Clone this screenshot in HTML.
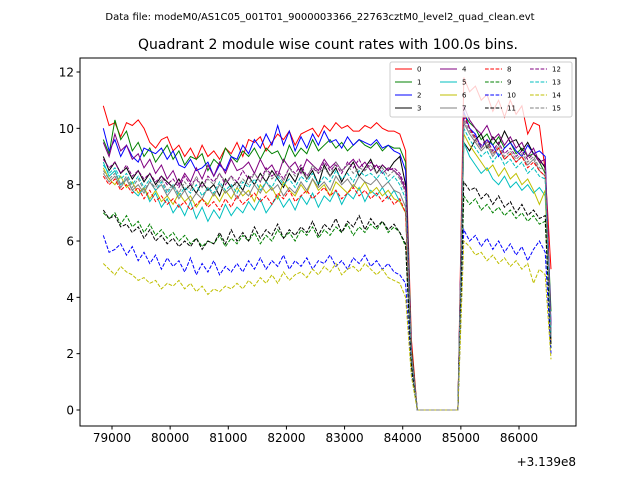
<!DOCTYPE html>
<html><head><meta charset="utf-8"><style>
body{margin:0;background:#fff}
svg{display:block;font-family:"DejaVu Sans","Liberation Sans",sans-serif}
</style></head><body>
<svg id="chart" width="640" height="480">
<text x="320" y="20" text-anchor="middle" font-size="10">Data file: modeM0/AS1C05_001T01_9000003366_22763cztM0_level2_quad_clean.evt</text>
<text x="328" y="49" text-anchor="middle" font-size="14">Quadrant 2 module wise count rates with 100.0s bins.</text>
<g id="plot"></g>
<text x="576" y="466" text-anchor="end" font-size="12">+3.139e8</text>
</svg>
<script>
const startTime = 78850;
const binSize = 100;
const s0 = [10.8,10.1,10.2,9.7,10.2,10.1,10.3,10.0,9.5,9.3,9.6,9.7,9.2,9.4,9.0,9.3,8.9,9.4,9.0,9.2,8.9,9.3,9.1,9.5,9.0,9.6,9.5,9.7,9.2,9.5,9.8,9.6,9.9,9.4,9.8,9.9,10.0,9.7,10.1,9.9,10.2,10.0,10.1,9.9,9.9,10.1,10.0,10.2,10.0,9.9,9.9,9.8,9.2,2.5,0,0,0,0,0,0,0,0,11.8,11.3,11.5,11.0,11.2,10.6,11.0,10.4,11.0,10.5,10.8,9.8,10.2,10.1,8.5,5.0];
const s1 = [9.6,9.1,10.3,9.6,9.9,9.2,9.5,9.0,9.3,8.8,9.1,9.4,8.9,9.2,8.7,9.0,8.9,9.1,8.5,8.9,8.7,9.3,9.0,8.8,9.2,9.0,9.3,8.9,9.3,9.1,9.2,8.8,9.4,9.0,9.3,9.1,9.6,9.2,9.4,9.6,9.3,9.5,9.2,9.4,9.6,9.4,9.3,9.5,9.2,9.4,9.3,9.3,8.8,2.2,0,0,0,0,0,0,0,0,10.5,10.2,10.0,9.6,9.8,9.4,9.7,9.3,9.5,9.1,9.3,9.0,9.1,8.8,8.4,3.5];
const s2 = [10.0,9.2,9.6,9.0,9.4,9.0,8.8,9.3,9.2,9.1,9.3,8.9,9.2,8.7,8.6,8.9,8.5,8.6,8.8,8.3,8.7,8.5,9.0,8.9,9.4,9.1,9.6,9.3,9.8,9.4,10.1,9.4,9.9,9.2,9.7,9.3,9.8,9.4,9.9,9.5,9.6,9.3,9.7,9.4,9.6,9.5,9.4,9.6,9.3,9.4,9.2,9.1,8.5,2.0,0,0,0,0,0,0,0,0,10.6,10.0,9.8,9.3,9.6,9.4,9.0,9.3,9.5,9.2,9.0,9.4,9.1,9.2,9.0,3.0];
const s3 = [9.0,8.5,8.8,8.4,8.6,8.2,8.5,8.1,8.4,8.0,8.3,8.1,7.9,8.2,7.8,8.0,7.7,8.1,7.8,8.0,7.6,8.2,7.9,8.1,7.8,8.3,8.0,8.4,8.1,8.5,8.2,7.9,8.4,8.1,8.6,8.2,8.5,8.0,8.7,8.3,8.6,8.1,8.5,8.8,8.3,8.6,8.9,8.4,8.7,8.5,8.8,9.0,8.0,2.0,0,0,0,0,0,0,0,0,9.5,9.2,9.6,9.8,9.3,9.7,9.4,9.9,9.5,9.6,9.2,9.5,9.1,8.9,8.6,2.5];
const s4 = [9.5,9.0,9.8,9.2,9.4,8.9,9.1,8.6,8.9,8.4,8.7,8.2,8.5,8.0,8.4,8.1,8.6,8.2,8.7,8.3,8.8,8.4,8.9,8.5,8.6,8.8,8.4,8.9,8.5,8.7,8.3,8.9,8.6,8.8,8.4,8.9,8.7,8.5,8.9,8.6,8.8,8.5,8.7,8.9,8.6,8.8,8.5,8.7,8.4,8.6,8.5,8.3,7.8,2.0,0,0,0,0,0,0,0,0,10.8,10.3,10.0,9.8,10.1,9.6,9.8,9.4,9.7,9.3,9.5,9.0,9.3,8.8,8.9,3.0];
const s5 = [8.8,8.3,8.5,8.0,8.2,7.8,7.6,7.9,7.4,7.7,7.2,7.5,7.0,7.3,6.9,7.4,6.8,7.2,6.7,7.1,6.8,7.3,6.9,7.2,7.0,7.4,7.1,7.5,7.0,7.3,7.6,7.2,7.5,7.1,7.6,7.3,7.7,7.2,7.6,7.4,7.8,7.3,7.7,7.5,7.9,7.4,7.8,7.6,7.9,7.5,7.8,7.4,7.0,1.8,0,0,0,0,0,0,0,0,9.5,9.0,8.7,8.4,8.6,8.2,8.0,8.3,7.9,8.1,7.8,8.0,7.7,7.9,7.6,2.8];
const s6 = [8.6,8.2,8.0,8.3,7.9,8.1,7.7,7.9,7.5,7.8,7.4,7.6,7.3,7.7,7.4,7.6,7.2,7.5,7.3,7.7,7.4,7.8,7.5,7.9,7.6,7.8,7.4,8.0,7.7,7.9,7.5,8.1,7.8,7.6,8.0,7.7,8.2,7.8,8.0,7.6,8.1,7.9,7.7,8.0,7.8,8.1,7.7,7.9,7.6,7.8,7.5,7.4,7.0,1.8,0,0,0,0,0,0,0,0,9.8,9.4,9.1,8.8,8.5,8.7,8.3,8.6,8.2,8.4,8.0,8.2,7.8,7.3,7.8,2.4];
const s7 = [8.4,8.1,8.3,7.9,8.2,7.8,8.0,7.7,8.1,7.8,8.0,7.6,7.9,7.5,7.8,7.4,7.7,7.5,7.9,7.6,8.0,7.7,7.9,7.5,7.8,7.6,8.0,7.7,8.1,7.8,8.0,7.6,7.9,7.7,8.1,7.8,8.2,7.9,8.1,7.8,8.3,8.0,8.2,7.9,8.3,8.1,8.0,8.2,7.9,8.1,7.8,7.7,7.2,1.9,0,0,0,0,0,0,0,0,10.2,9.8,9.5,9.2,9.4,9.0,9.3,8.9,9.1,8.8,9.0,8.7,8.9,8.5,8.3,2.6];
const s8 = [8.3,8.0,8.2,7.8,8.0,7.7,7.9,7.5,7.8,7.4,7.6,7.3,7.5,7.2,7.4,7.1,7.3,7.5,7.2,7.4,7.1,7.5,7.2,7.6,7.3,7.5,7.7,7.4,7.6,7.3,7.7,7.5,7.8,7.4,7.6,7.8,7.5,7.7,7.9,7.6,7.8,7.5,7.7,7.9,7.6,7.8,7.5,7.7,7.4,7.6,7.3,7.5,7.0,1.8,0,0,0,0,0,0,0,0,10.5,10.0,9.6,9.3,9.5,9.1,9.3,8.9,9.1,8.8,9.0,8.6,8.8,8.5,8.3,2.5];
const s9 = [7.0,6.8,7.0,6.6,6.9,6.5,6.7,6.3,6.6,6.2,6.4,6.1,6.3,6.0,6.2,5.9,6.1,5.8,6.0,5.9,6.2,5.8,6.1,5.9,6.2,6.0,6.3,5.9,6.2,6.0,6.4,6.1,6.3,6.0,6.4,6.2,6.5,6.1,6.4,6.2,6.5,6.3,6.6,6.2,6.5,6.3,6.6,6.4,6.7,6.3,6.5,6.3,5.8,1.5,0,0,0,0,0,0,0,0,7.6,7.3,7.5,7.1,7.3,7.0,7.2,6.9,7.1,6.8,7.0,6.7,6.9,6.6,6.7,2.2];
const s10 = [6.2,5.6,5.7,5.9,5.5,5.8,5.3,5.6,5.2,5.5,5.0,5.4,5.1,5.3,4.9,5.4,4.8,5.2,4.9,5.3,4.8,5.1,4.9,5.2,4.9,5.3,5.0,5.4,5.0,5.3,5.1,5.5,5.0,5.3,5.1,5.4,5.0,5.3,5.2,5.5,5.1,5.3,5.0,5.4,5.2,5.5,5.1,5.3,5.0,5.2,4.9,4.8,4.5,1.3,0,0,0,0,0,0,0,0,6.4,6.0,6.2,5.8,6.1,5.7,6.0,5.6,5.9,5.5,5.8,5.3,5.7,6.0,5.6,2.0];
const s11 = [7.1,6.8,6.9,6.5,6.6,6.3,6.5,6.1,6.4,6.0,6.2,5.9,6.1,5.8,6.0,5.8,6.1,5.7,6.0,5.9,6.3,5.9,6.4,6.0,6.3,6.0,6.5,6.1,6.4,6.2,6.6,6.1,6.4,6.2,6.5,6.3,6.7,6.2,6.6,6.4,6.8,6.3,6.7,6.5,6.9,6.4,6.8,6.5,6.7,6.4,6.6,6.3,5.9,1.6,0,0,0,0,0,0,0,0,8.1,7.8,7.9,7.5,7.7,7.3,7.6,7.2,7.4,7.0,7.3,6.9,7.1,6.8,6.9,2.3];
const s12 = [8.9,8.6,8.8,8.4,8.7,8.3,8.5,8.2,8.4,8.1,8.3,8.0,8.2,7.9,8.3,8.0,8.2,7.9,8.3,8.1,8.4,8.0,8.3,8.1,8.5,8.2,8.4,8.1,8.6,8.3,8.5,8.2,8.6,8.4,8.7,8.3,8.6,8.4,8.8,8.5,8.7,8.4,8.8,8.6,8.9,8.5,8.8,8.6,8.7,8.5,8.6,8.4,7.9,2.0,0,0,0,0,0,0,0,0,10.4,10.0,9.7,9.4,9.6,9.2,9.5,9.1,9.3,9.0,9.2,8.9,9.1,8.8,8.7,2.7];
const s13 = [8.7,8.4,8.6,8.2,8.4,8.0,8.3,7.9,8.2,7.8,8.1,7.7,8.0,7.6,7.9,7.7,8.0,7.6,7.9,7.7,8.1,7.8,8.0,7.7,8.1,7.9,8.2,7.8,8.1,7.9,8.3,8.0,8.2,7.9,8.3,8.1,8.4,8.0,8.3,8.1,8.5,8.2,8.4,8.1,8.5,8.3,8.4,8.2,8.5,8.1,8.3,8.0,7.5,1.9,0,0,0,0,0,0,0,0,10.0,9.6,9.3,9.0,9.2,8.8,9.1,8.7,8.9,8.6,8.8,8.4,8.6,8.3,8.2,2.6];
const s14 = [5.2,5.0,4.8,5.1,4.9,4.8,4.6,4.7,4.5,4.6,4.3,4.5,4.4,4.6,4.3,4.5,4.2,4.4,4.1,4.3,4.2,4.4,4.3,4.5,4.3,4.6,4.4,4.7,4.5,4.8,4.5,4.9,4.6,4.8,4.9,4.7,5.0,4.8,5.1,4.9,5.2,4.8,5.0,5.1,4.9,5.2,5.0,4.8,5.0,4.7,4.6,4.5,4.0,1.2,0,0,0,0,0,0,0,0,6.0,5.8,5.5,5.6,5.3,5.5,5.2,5.4,5.1,5.3,5.0,5.2,4.5,5.0,4.8,1.8];
const s15 = [8.5,8.2,8.4,8.0,8.3,7.9,8.2,7.8,8.1,7.9,8.2,7.8,8.0,7.7,8.1,7.8,8.3,7.9,8.2,8.0,8.4,8.1,8.3,7.9,8.2,8.0,8.4,8.1,8.5,8.2,8.4,8.1,8.6,8.3,8.5,8.2,8.7,8.4,8.6,8.3,8.8,8.5,8.7,8.4,8.6,8.5,8.7,8.4,8.6,8.3,8.5,8.2,7.7,2.0,0,0,0,0,0,0,0,0,10.3,9.9,9.6,9.3,9.5,9.1,9.4,9.0,9.2,8.9,9.1,8.8,9.0,8.6,8.5,2.6];
const seriesNames = ["0","1","2","3","4","5","6","7","8","9","10","11","12","13","14","15"];
const xTicks = [79000,80000,81000,82000,83000,84000,85000,86000];
const yTicks = [0,2,4,6,8,10,12];

const allSeries=[s0,s1,s2,s3,s4,s5,s6,s7,s8,s9,s10,s11,s12,s13,s14,s15];
const colors=["#ff0000","#008000","#0000ff","#000000","#800080","#00bfbf","#bfbf00","#808080"];
const L=80,R=576,T=58,B=426;
const xs=v=>112+(v-79000)*(519-112)/7000;
const ys=v=>410-v*(410-72)/12;
const NS="http://www.w3.org/2000/svg";
const g=document.getElementById('plot');
function mk(t,a,p){const e=document.createElementNS(NS,t);for(const k in a)e.setAttribute(k,a[k]);(p||g).appendChild(e);return e;}
allSeries.forEach((s,si)=>{
  const pts=s.map((v,i)=>xs(startTime+i*binSize).toFixed(1)+','+ys(v).toFixed(1)).join(' ');
  const pl=mk('polyline',{points:pts,fill:'none',stroke:colors[si%8],'stroke-width':1,'stroke-dasharray':si>=8?'3.7,1.6':'none'});
  
  
});
const fr=mk('rect',{x:L,y:T,width:R-L,height:B-T,fill:'none',stroke:'#000','stroke-width':1});


xTicks.forEach(t=>{
  const x=xs(t);
  const tk=mk('line',{x1:x,x2:x,y1:B,y2:B+3.5,stroke:'#000'});
  
  
  const tx=mk('text',{x:x,y:B+16,'text-anchor':'middle','font-size':12});
  tx.textContent=t;
  
  
});
yTicks.forEach(t=>{
  const y=ys(t);
  const tk=mk('line',{x1:L-3.5,x2:L,y1:y,y2:y,stroke:'#000'});
  
  
  const tx=mk('text',{x:L-6,y:y+4.5,'text-anchor':'end','font-size':12});
  tx.textContent=t;
  
  
});
const lg=mk('g',{});


mk('rect',{x:390,y:62,width:182,height:55,rx:2,fill:'#fff','fill-opacity':0.8,stroke:'#ccc'},lg);
seriesNames.forEach((n,i)=>{
  const c=Math.floor(i/4),r=i%4;
  const x0=395+c*45,y0=69+r*13;
  const ln=mk('line',{x1:x0,x2:x0+17,y1:y0,y2:y0,stroke:colors[i%8],'stroke-width':1,'stroke-dasharray':i>=8?'3.7,1.6':'none'},lg);
  
  
  const tx=mk('text',{x:x0+22,y:y0+2.5,'font-size':7},lg);
  tx.textContent=n;
  
  
});
</script>
</body></html>
